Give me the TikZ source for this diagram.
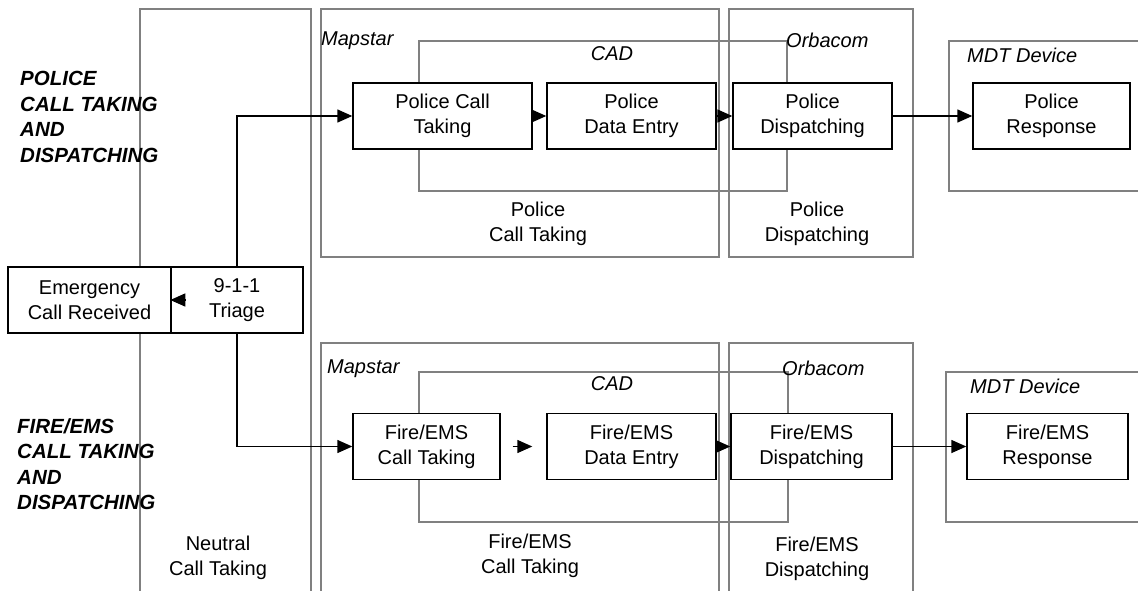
\documentclass[tikz,border=0pt]{standalone}
\usepackage{fontspec}
\setmainfont{Liberation Sans}
\usetikzlibrary{positioning, arrows.meta}
\definecolor{zonegray}{RGB}{128,128,128}

\begin{document}
\begin{tikzpicture}[x=1pt, y=-1pt,
    every node/.style={font=\fontsize{20}{25}\selectfont, inner sep=0pt},
    zone/.style={draw=zonegray, line width=1.3pt},
    proc/.style={draw, fill=white, line width=1.4pt, minimum height=66pt, align=center},
    tag/.style={font=\fontsize{20}{25}\selectfont\itshape, anchor=base west},
    head/.style={font=\fontsize{20.5}{25.5}\selectfont\bfseries\itshape, anchor=west, align=left},
    arr/.style={line width=1.4pt, -{Triangle[length=15pt, width=13pt]}}]

    \clip (0,0) rectangle (1138,590);
    \fill[white] (0,0) rectangle (1138,590);

    % 1. system zones
    \draw[zone] (140,9) rectangle (311,600);    % neutral
    \draw[zone] (321,9) rectangle (719,257);    % Mapstar, police
    \draw[zone] (729,9) rectangle (913,257);    % Orbacom, police
    \draw[zone] (419,41) rectangle (787,191);   % CAD, police
    \draw[zone] (949,41) rectangle (1150,191);  % MDT, police
    \draw[zone] (321,343) rectangle (719,600);  % Mapstar, fire
    \draw[zone] (729,343) rectangle (913,600);  % Orbacom, fire
    \draw[zone] (419,372) rectangle (788,522);  % CAD, fire
    \draw[zone] (946,372) rectangle (1150,522); % MDT, fire

    % zone tags
    \node[tag] (mapP) at (321,45) {Mapstar};
    \node[tag] (orbP) at (786,47) {Orbacom};
    \node[tag] (mdtP) at (967,62) {MDT Device};
    \node[tag, anchor=base] (cadP) at (612,60) {CAD};
    \node[tag] (mapF) at (327,373) {Mapstar};
    \node[tag] (orbF) at (782,375) {Orbacom};
    \node[tag] (mdtF) at (970,393) {MDT Device};
    \node[tag, anchor=base] (cadF) at (612,390) {CAD};

    % zone captions
    \node[align=center] (capPct) at (538,224) {Police\\Call Taking};
    \node[align=center] (capPdi) at (817,224) {Police\\Dispatching};
    \node[align=center] (capNeu) at (218,558) {Neutral\\Call Taking};
    \node[align=center] (capFct) at (530,556) {Fire/EMS\\Call Taking};
    \node[align=center] (capFdi) at (817,559) {Fire/EMS\\Dispatching};

    % 2. headings
    \node[head] (headP) at (20,117) {POLICE\\CALL TAKING\\AND\\DISPATCHING};
    \node[head] (headF) at (17,464) {FIRE/EMS\\CALL TAKING\\AND\\DISPATCHING};

    % 3. process steps
    \node[proc, minimum width=163pt] (emerg) at (89.5,300) {Emergency\\Call Received};
    \node[proc, minimum width=132pt] (triage) at (237,300) {9-1-1\\Triage};

    \node[proc, minimum width=179pt] (pct) at (442.5,116) {Police Call\\Taking};
    \node[proc, minimum width=169pt] (pde) at (631.5,116) {Police\\Data Entry};
    \node[proc, minimum width=159pt] (pdi) at (812.5,116) {Police\\Dispatching};
    \node[proc, minimum width=157pt] (pre) at (1051.5,116) {Police\\Response};

    \node[proc, minimum width=147pt] (fct) at (426.5,446.5) {Fire/EMS\\Call Taking};
    \node[proc, minimum width=169pt] (fde) at (631.5,446.5) {Fire/EMS\\Data Entry};
    \node[proc, minimum width=161pt] (fdi) at (811.5,446.5) {Fire/EMS\\Dispatching};
    \node[proc, minimum width=161pt] (fre) at (1047.5,446.5) {Fire/EMS\\Response};

    % 4. connectors
    \draw[arr] ([xshift=15pt]triage.west) -- (triage.west);
    \draw[arr] (triage.north) |- (pct.west);
    \draw[arr] (triage.south) |- (fct.west);

    \draw[arr] (pct) -- (pde);
    \draw[arr] (pde) -- (pdi);
    \draw[arr] (pdi) -- (pre);

    \draw[arr, shorten <=12pt, shorten >=14pt] (fct) -- (fde);
    \draw[arr] (fde) -- (fdi);
    \draw[arr] (fdi) -- (fre);

\end{tikzpicture}
\end{document}
